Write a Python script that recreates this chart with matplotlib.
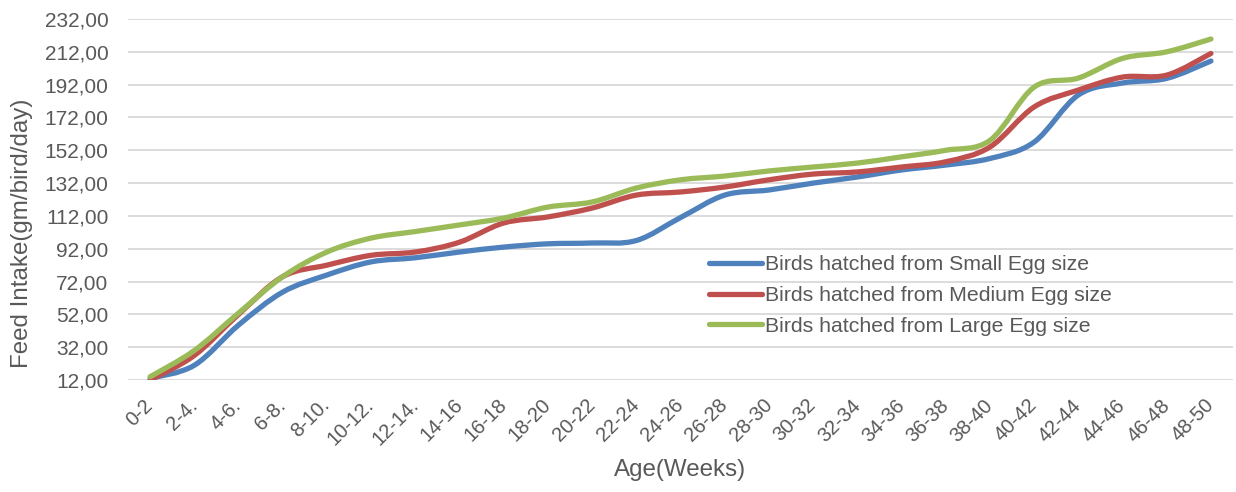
import matplotlib
matplotlib.use('Agg')
import matplotlib.pyplot as plt
from matplotlib.path import Path
from matplotlib.patches import PathPatch
from matplotlib.lines import Line2D
from matplotlib.ticker import FuncFormatter

# Kategoriler (yaş aralıkları) ve seriler
ages = ['0-2', '2-4.', '4-6.', '6-8.', '8-10.', '10-12.', '12-14.', '14-16', '16-18',
        '18-20', '20-22', '22-24', '24-26', '26-28', '28-30', '30-32', '32-34',
        '34-36', '36-38', '38-40', '40-42', '42-44', '44-46', '46-48', '48-50']

small = [13, 21, 45.5, 65.6, 76, 84, 86.5, 90, 93, 95, 95.5, 97, 111, 124.7, 127.8,
         132, 135.7, 140, 143, 147, 157, 185.7, 193, 195.8, 206.4]
medium = [12, 27, 52, 75, 82, 88, 90, 96, 107.7, 111.4, 116.8, 124.7, 126.6, 129.6, 134,
          137.5, 138.8, 141.8, 145, 154, 178.4, 188.7, 196.6, 197.8, 211]
large = [14, 30, 52.8, 75, 90, 98.5, 102.5, 106.5, 110.7, 117.4, 120.5, 129, 134, 136.3,
         139.4, 141.8, 144.2, 148, 152, 158, 190.5, 196, 208, 212, 219.8]

labels = ['Birds hatched from Small Egg size',
          'Birds hatched from Medium Egg size',
          'Birds hatched from Large Egg size']
colors = ['#4F81BD', '#C0504D', '#9BBB59']
yticks = list(range(12, 233, 20))

plt.rcParams['font.family'] = ['Liberation Sans', 'DejaVu Sans']
text_color = '#595959'


def smooth_path(ys):
    # Excel tarzı yumuşatılmış çizgi (Catmull-Rom -> Bezier)
    xs = list(range(len(ys)))
    pts = list(zip(xs, ys))
    verts = [pts[0]]
    codes = [Path.MOVETO]
    n = len(pts)
    for i in range(n - 1):
        p0 = pts[i - 1] if i > 0 else pts[i]
        p1 = pts[i]
        p2 = pts[i + 1]
        p3 = pts[i + 2] if i + 2 < n else pts[i + 1]
        c1 = (p1[0] + (p2[0] - p0[0]) / 6, p1[1] + (p2[1] - p0[1]) / 6)
        c2 = (p2[0] - (p3[0] - p1[0]) / 6, p2[1] - (p3[1] - p1[1]) / 6)
        verts += [c1, c2, p2]
        codes += [Path.CURVE4] * 3
    return Path(verts, codes)


fig = plt.figure(figsize=(12.36, 4.92), dpi=100)
ax = fig.add_axes([0.1036, 0.2276, 0.894, 0.7338])

handles = []
for ys, c, lab in zip([small, medium, large], colors, labels):
    patch = PathPatch(smooth_path(ys), facecolor='none', edgecolor=c, lw=3.8,
                      capstyle='round', joinstyle='round')
    ax.add_patch(patch)
    handles.append(Line2D([], [], color=c, lw=3.8, solid_capstyle='round'))

ax.set_xlim(-0.5, len(ages) - 0.5)
ax.set_ylim(12, 232)
ax.set_xticks(range(len(ages)))
ax.set_xticklabels(ages, rotation=45, ha='right', va='center', rotation_mode='anchor')
ax.set_yticks(yticks)
ax.yaxis.set_major_formatter(FuncFormatter(lambda v, p: f'{v:.2f}'.replace('.', ',')))

for s in ax.spines.values():
    s.set_visible(False)
ax.grid(axis='y', color='#D9D9D9', lw=1.3)
ax.set_axisbelow(True)
ax.tick_params(axis='both', length=0, colors=text_color)
ax.tick_params(axis='y', pad=14, labelsize=15)
ax.tick_params(axis='x', pad=16, labelsize=14.5)

ax.set_xlabel('Age(Weeks)', fontsize=17.4, color=text_color)
ax.set_ylabel('Feed Intake(gm/bird/day)', fontsize=17.4, color=text_color)
ax.xaxis.set_label_coords((680 - 128) / 1105, -(470 - 380) / 361)
ax.yaxis.set_label_coords(-(128 - 22) / 1105, (380 - 233) / 361)
ax.xaxis.label.set_va('center')
ax.yaxis.label.set_va('center')

ax.legend(handles, labels, loc='upper left', bbox_to_anchor=(0.516, 0.375),
          frameon=False, fontsize=15.3, handlelength=2.5, handletextpad=0.15,
          labelspacing=0.55, borderpad=0, labelcolor=text_color)

fig.savefig('out.png', dpi=100)
